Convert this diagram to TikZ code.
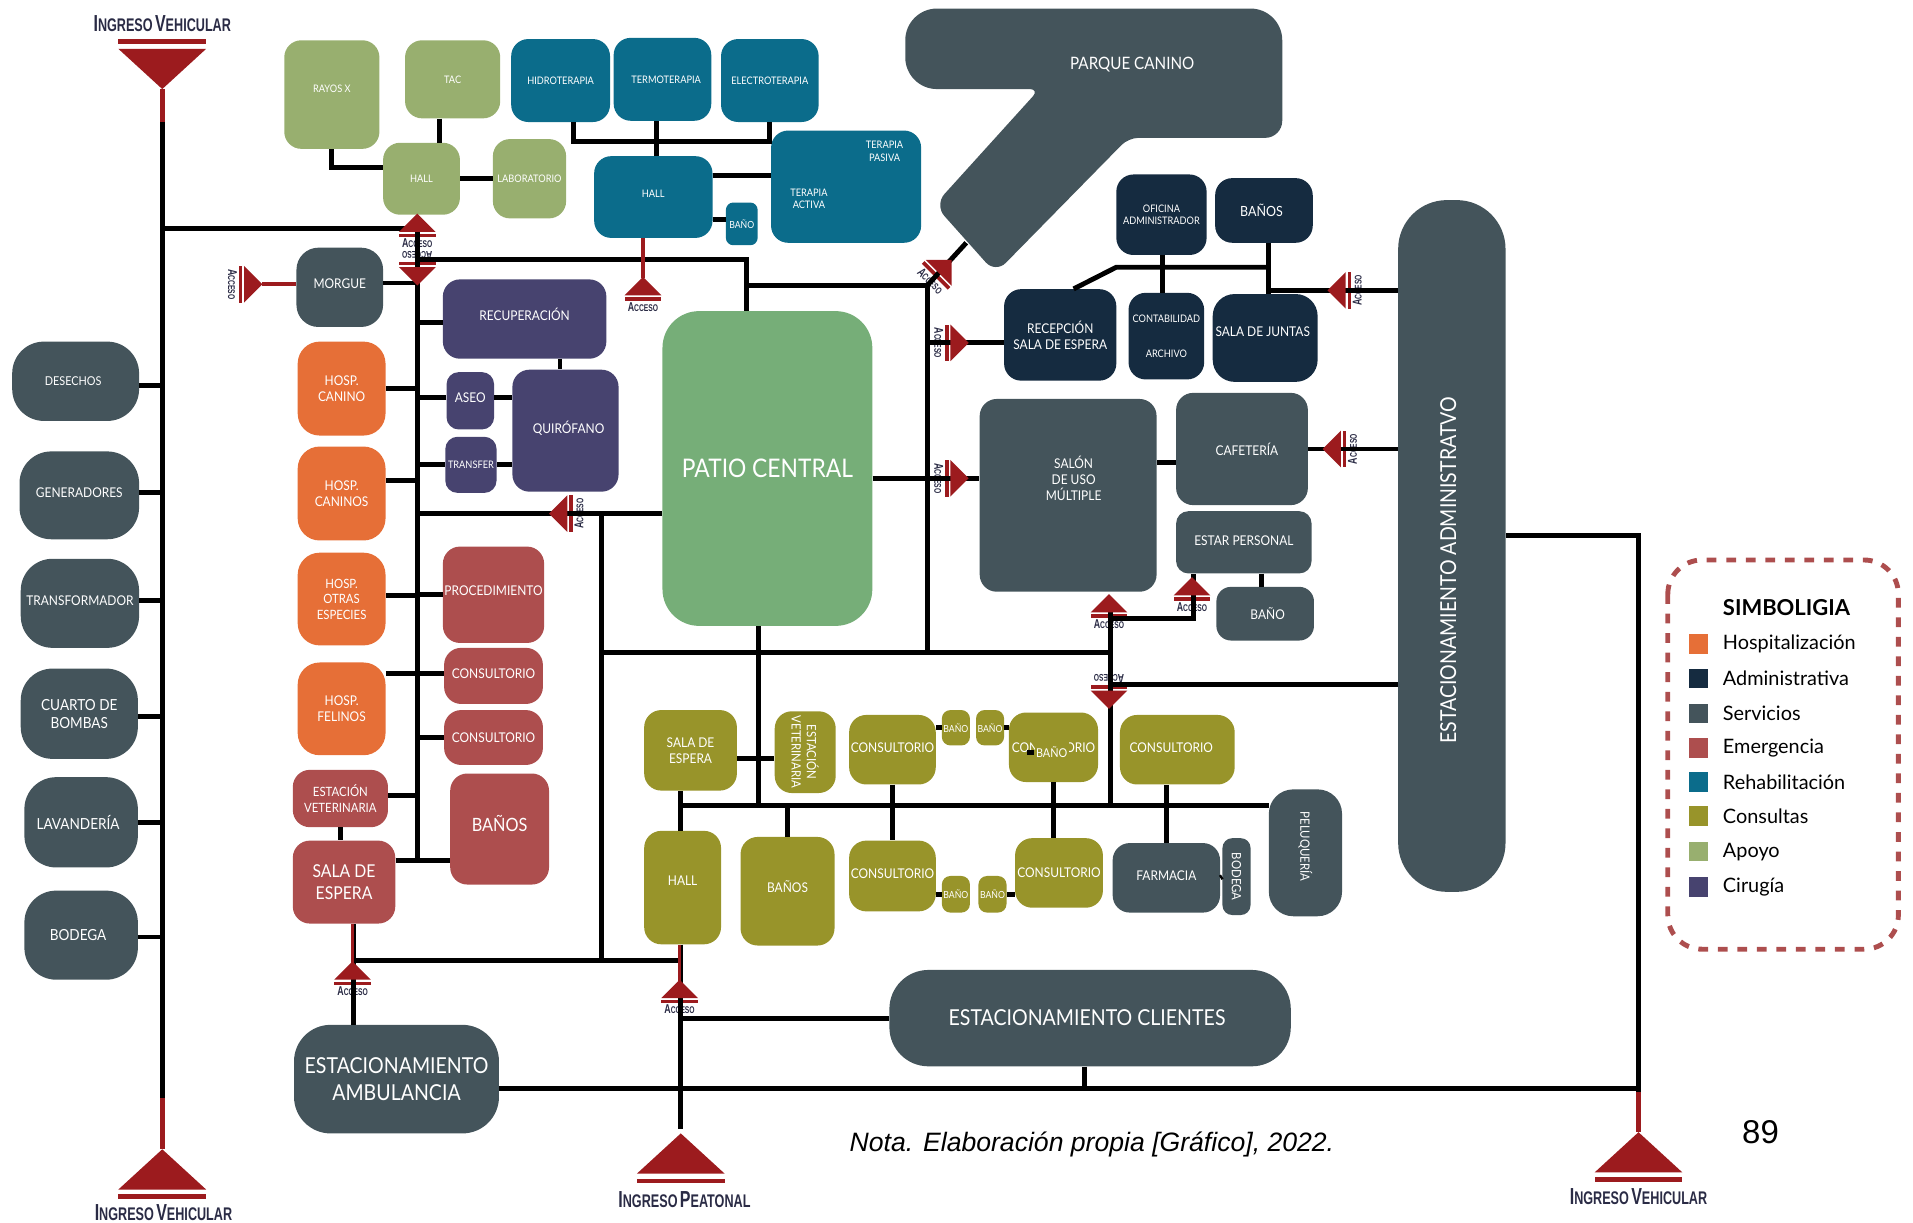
\documentclass[tikz,border=0pt]{standalone}
\usepackage{fontspec}
\setmainfont{Lato}[FakeStretch=0.89]
\newfontfamily\leyendafont{Lato}
\newfontfamily\arialfont{Liberation Sans}
\newfontfamily\ingresofont[FakeStretch=0.69]{Liberation Sans}
\definecolor{hospcol}{RGB}{230,111,55}
\definecolor{admincol}{RGB}{21,43,64}
\definecolor{servcol}{RGB}{68,84,91}
\definecolor{emercol}{RGB}{173,78,78}
\definecolor{rehabcol}{RGB}{11,108,139}
\definecolor{conscol}{RGB}{152,148,42}
\definecolor{apoyocol}{RGB}{152,175,111}
\definecolor{cirucol}{RGB}{71,67,111}
\definecolor{patiocol}{RGB}{118,174,120}
\definecolor{accesscol}{RGB}{156,27,30}
\definecolor{inkcol}{RGB}{42,43,69}
\usetikzlibrary{backgrounds,positioning}
\newcommand{\smcap}[4]{{\fontsize{#1}{#1}\selectfont #3}{\fontsize{#2}{#2}\selectfont #4}}
\tikzset{
  box/.style 2 args={minimum width=#1pt,minimum height=#2pt},
  fs/.style={font=\fontsize{#1}{#1}\selectfont\setlength{\baselineskip}{1.2em}},
}
\tikzstyle{room}=[rectangle,rounded corners=14pt,inner sep=0pt,align=center,text=white,fs=11]
\tikzstyle{hosp}=[room,fill=hospcol]
\tikzstyle{admi}=[room,fill=admincol]
\tikzstyle{serv}=[room,fill=servcol]
\tikzstyle{emer}=[room,fill=emercol]
\tikzstyle{rehab}=[room,fill=rehabcol]
\tikzstyle{cons}=[room,fill=conscol]
\tikzstyle{apoyo}=[room,fill=apoyocol,fs=8.5]
\tikzstyle{ciru}=[room,fill=cirucol]
\tikzstyle{rotulo}=[inner sep=0pt,align=center,text=white,fs=8.5]
\tikzstyle{conn}=[line width=4pt,black]
\tikzstyle{connred}=[line width=3pt,accesscol]
\tikzstyle{entrada}=[inner sep=0pt,text=inkcol,font=\ingresofont\bfseries]
\tikzset{
  acceso/.pic={
    \fill[accesscol] (0pt,0pt) -- (15pt,-15pt) -- (-15pt,-15pt) -- cycle;
    \begin{pgfonlayer}{background}
      \fill[accesscol] (-15pt,-16.5pt) rectangle (15pt,-19.5pt);
      \node[entrada,transform shape] (-t) at (0pt,-24.5pt) {\smcap{10.5}{8}{A}{CCESO}};
    \end{pgfonlayer}
  },
  ingreso/.pic={
    \fill[accesscol] (0pt,0pt) -- (36pt,-33pt) -- (-36pt,-33pt) -- cycle;
    \fill[accesscol] (-36pt,-37pt) rectangle (36pt,-41pt);
  },
}

\begin{document}
\begin{tikzpicture}[x=1pt,y=-1pt]
\useasboundingbox (0,0) rectangle (1568,1002.4);

% apoyo
\node[apoyo,box={78}{89}] (rayos) at (272,77.5) {\raisebox{9pt}{RAYOS X}};
\node[apoyo,box={78}{64}] (tac) at (371,65) {TAC};
\node[apoyo,box={63}{59}] (halla) at (345.5,146.5) {HALL};
\node[apoyo,box={60}{65}] (lab) at (434,146.5) {LABORATORIO};

% rehabilitacion
\node[rehab,fs=8.5,box={81}{68}] (hidro) at (459.5,66) {HIDROTERAPIA};
\node[rehab,fs=8.5,box={80}{68}] (termo) at (543,65) {\hspace{6pt}\raisebox{-4pt}{TERMOTERAPIA}};
\node[rehab,fs=8.5,box={80}{68}] (elect) at (631,66) {ELECTROTERAPIA};
\node[rehab,fs=8.5,box={97}{67}] (hallr) at (535.5,161.5) {\raisebox{6pt}{HALL}};
\node[rehab,fs=8,rounded corners=6pt,box={26}{35}] (banor) at (608,183.5) {BAÑO};
\node[rehab,box={123}{92}] (terapia) at (693.5,153) {};
\node[rotulo] (pasiva) at (725,124) {TERAPIA\\PASIVA};
\node[rotulo] (activa) at (663,163) {TERAPIA\\ACTIVA};

% parque
\fill[servcol,rounded corners=26pt] (742,7) -- (1051,7) [rounded corners=14pt] -- (1051,113) [rounded corners=8pt] -- (925,113)
  [rounded corners=12pt] -- (816,224) -- (766,168) [rounded corners=8pt] -- (852,73) [rounded corners=26pt] -- (742,73) -- cycle;
\node[rotulo,fs=14] (parquetxt) at (928,53) {PARQUE CANINO};
\coordinate (parque) at (792,199);

% servicios
\node[serv,fs=10,rounded corners=26pt,box={104}{65}] (desechos) at (62,312.5) {DESECHOS\hspace{4pt}};
\node[serv,rounded corners=26pt,box={98}{72}] (generadores) at (65,406) {\raisebox{4pt}{GENERADORES}};
\node[serv,rounded corners=26pt,box={97}{73}] (transformador) at (65.5,494.5) {\raisebox{4pt}{TRANSFORMADOR}};
\node[serv,fs=12.5,rounded corners=26pt,box={96}{74}] (bombas) at (65,585) {CUARTO DE\\BOMBAS};
\node[serv,fs=12.5,rounded corners=26pt,box={93}{74}] (lavanderia) at (66.5,674) {LAVANDERÍA\hspace{5pt}};
\node[serv,fs=12.5,rounded corners=26pt,box={93}{73}] (bodega) at (66.5,766.5) {BODEGA\hspace{5pt}};
\node[serv,rounded corners=18pt,box={71}{65}] (morgue) at (278.5,235.5) {\raisebox{6pt}{MORGUE}};

% hospitalizacion
\node[hosp,rounded corners=18pt,box={72}{77}] (hcanino) at (280,318.5) {HOSP.\\CANINO};
\node[hosp,rounded corners=18pt,box={72}{77}] (hcaninos) at (280,404.5) {HOSP.\\CANINOS};
\node[hosp,fs=10.5,rounded corners=18pt,box={72}{76}] (hotras) at (280,491) {HOSP.\\OTRAS\\ESPECIES};
\node[hosp,rounded corners=18pt,box={72}{76}] (hfelinos) at (280,581) {HOSP.\\FELINOS};

% cirugia
\node[ciru,box={134}{65}] (recup) at (430,261.5) {\raisebox{7pt}{RECUPERACIÓN}};
\node[ciru,rounded corners=10pt,box={39}{47}] (aseo) at (385.5,328.5) {\raisebox{5pt}{ASEO}};
\node[ciru,fs=8.5,rounded corners=10pt,box={42}{46}] (transfer) at (386,381) {TRANSFER};
\node[ciru,box={87}{100}] (quiro) at (463.5,353) {\raisebox{6pt}{\hspace{5pt}QUIRÓFANO}};

% emergencia
\node[emer,box={83}{79}] (proced) at (404.5,487.5) {\raisebox{7pt}{PROCEDIMIENTO}};
\node[emer,box={81}{46}] (consa) at (404.5,554) {\raisebox{4pt}{CONSULTORIO}};
\node[emer,box={81}{45}] (consb) at (404.5,604.5) {CONSULTORIO};
\node[emer,fs=10.5,box={78}{47}] (estva) at (279,654.5) {ESTACIÓN\\VETERINARIA};
\node[emer,fs=15,box={81}{91}] (banose) at (409.5,679.5) {\raisebox{9pt}{BAÑOS}};
\node[emer,fs=14.5,box={84}{68}] (salae) at (282,723) {SALA DE\\ESPERA};

\node[room,fill=patiocol,fs=21,rounded corners=30pt,box={172}{258}] (patio) at (629,384) {PATIO CENTRAL};

% consultas
\node[cons,box={76}{66}] (salac) at (566,615) {SALA DE\\ESPERA};
\node[cons,fs=10.5,rotate=-90,box={67}{50}] (estvb) at (660,616.5) {ESTACIÓN\\VETERINARIA};
\node[cons,box={71}{57}] (cona) at (731.5,614.5) {\raisebox{4pt}{CONSULTORIO}};
\node[cons,fs=8,rounded corners=7pt,box={23}{29}] (banoa) at (783.5,596.5) {BAÑO};
\node[cons,fs=8,rounded corners=7pt,box={23}{29}] (banob) at (811.5,596.5) {BAÑO};
\node[cons,box={73}{57}] (conb) at (863.5,612.5) {CONSULTORIO};
\node[cons,fs=10,rounded corners=0pt,box={28}{20}] (banoc) at (862,616.5) {BAÑO};
\node[cons,box={94}{57}] (conc) at (965,614.5) {\raisebox{4pt}{CONSULTORIO\hspace{10pt}}};
\node[cons,box={63}{93}] (hallc) at (559.5,727.5) {\raisebox{12pt}{HALL}};
\node[cons,box={77}{89}] (banosc) at (645.5,730.5) {\raisebox{7pt}{BAÑOS}};
\node[cons,box={71}{58}] (cond) at (731.5,718) {\raisebox{4pt}{CONSULTORIO}};
\node[cons,fs=8,rounded corners=7pt,box={23}{30}] (banod) at (783.5,733) {BAÑO};
\node[cons,fs=8,rounded corners=7pt,box={23}{30}] (banoe) at (813.5,733) {BAÑO};
\node[cons,box={72}{57}] (cone) at (868,715.5) {CONSULTORIO};

% servicios derecha
\node[serv,box={88}{57}] (farmacia) at (956,719.5) {\raisebox{3pt}{FARMACIA}};
\node[serv,fs=10.5,rotate=-90,rounded corners=8pt,box={63}{23}] (bodegab) at (1013.5,718.5) {BODEGA};
\node[serv,fs=10.5,rotate=-90,rounded corners=20pt,box={104}{60}] (peluqueria) at (1070,699) {PELUQUERÍA\hspace{10pt}};
\node[serv,box={145}{158}] (salon) at (875.5,406) {};
\node[rotulo,fs=11] (salontxt) at (880,392) {SALÓN\\DE USO\\MÚLTIPLE};
\node[serv,box={108}{92}] (cafe) at (1018,368) {\hspace{8pt}CAFETERÍA};
\node[serv,rounded corners=10pt,box={111}{51}] (estar) at (1019.5,444.5) {\raisebox{2pt}{ESTAR PERSONAL}};
\node[serv,rounded corners=12pt,box={80}{44}] (banop) at (1037,503) {\hspace{4pt}BAÑO};
\node[serv,fs=18,rotate=90,rounded corners=40pt,box={567}{88}] (estadmin) at (1190,447.5) {\raisebox{6pt}{ESTACIONAMIENTO ADMINISTRATVO\hspace{40pt}}};
\node[serv,fs=18,rounded corners=32pt,box={329}{79}] (estclientes) at (893.5,834.5) {\raisebox{-4pt}{ESTACIONAMIENTO CLIENTES\hspace{5pt}}};
\node[serv,fs=18,rounded corners=30pt,box={168}{89}] (estambu) at (325,884.5) {ESTACIONAMIENTO\\AMBULANCIA};

% administrativa
\node[admi,fs=8.5,box={74}{66}] (oficina) at (952,176) {OFICINA\\ADMINISTRADOR};
\node[admi,fs=11.5,box={80}{53}] (banosn) at (1036,172.5) {BAÑOS\hspace{4pt}};
\node[admi,box={92}{75}] (recep) at (869,274.5) {RECEPCIÓN\\SALA DE ESPERA};
\node[admi,fs=8.5,box={62}{71}] (contab) at (956,275.5) {CONTABILIDAD\\[19pt]ARCHIVO};
\node[admi,rounded corners=18pt,box={86}{72}] (juntas) at (1037,277) {\raisebox{10pt}{SALA DE JUNTAS\hspace{4pt}}};

% leyenda
\draw[emercol,line width=4pt,dash pattern=on 8pt off 8pt,rounded corners=28pt] (1367,459) rectangle (1556,778);
\node[inner sep=0pt,anchor=west,font=\leyendafont\fontsize{18}{18}\selectfont\bfseries] (simbo) at (1412,498) {SIMBOLIGIA};
\foreach \n/\c/\t/\y in {a/hospcol/Hospitalización/528,b/admincol/Administrativa/556,c/servcol/Servicios/585,
  d/emercol/Emergencia/613,e/rehabcol/Rehabilitación/641,f/conscol/Consultas/669,g/apoyocol/Apoyo/698,h/cirucol/Cirugía/727}{
  \node[fill=\c,minimum size=16pt,inner sep=0pt] (sq\n) at (1392,\y) {};
  \node[inner sep=0pt,anchor=west,font=\leyendafont\fontsize{16.3}{16.3}\selectfont] (ley\n) at (1412,\y) {\t};
}

\node[inner sep=0pt,font=\arialfont\itshape\fontsize{21.8}{21.8}\selectfont] (nota) at (895,938) {Nota. Elaboración propia [Gráfico], 2022.};
\node[inner sep=0pt,font=\arialfont\fontsize{27}{27}\selectfont] (pagina) at (1443,928) {89};

% ingresos
\node[entrada] (ingtxta) at (133,19) {\smcap{19}{15}{I}{NGRESO} \smcap{19}{15}{V}{EHICULAR}};
\node[entrada] (ingtxtb) at (134,994) {\smcap{19}{15}{I}{NGRESO} \smcap{19}{15}{V}{EHICULAR}};
\node[entrada] (ingtxtc) at (561,983) {\smcap{19}{15}{I}{NGRESO} \smcap{19}{15}{P}{EATONAL}};
\node[entrada] (ingtxtd) at (1343,981) {\smcap{19}{15}{I}{NGRESO} \smcap{19}{15}{V}{EHICULAR}};

% junctions
\coordinate (ivtop) at (133,73);
\coordinate (ivbot) at (133,942);
\coordinate (ipeat) at (558,929);
\coordinate (ivder) at (1343,928);
\coordinate (jleft) at (133,100);
\coordinate (jleftb) at (133,900);
\coordinate (jbus) at (342,187);
\coordinate (jbusb) at (342,705);
\coordinate (jpatio) at (612,213);
\coordinate (jparque) at (760,234);
\coordinate (jbaja) at (760,535);
\coordinate (jmid) at (493,421);
\coordinate (jmidb) at (493,787);
\coordinate (jamb) at (290,790);
\coordinate (jpeat) at (558,787);
\coordinate (jpeatb) at (558,925);
\coordinate (jcons) at (558,660);
\coordinate (jfila) at (622,660);
\coordinate (jsal) at (910,490);
\coordinate (jsalb) at (910,660);
\coordinate (jestar) at (978,507);
\coordinate (jder) at (1343,895);
\coordinate (jcli) at (889,892);
\coordinate (jofi) at (1040,219);
\coordinate (jofib) at (915,219);
\coordinate (jofic) at (953,219);
\coordinate (jteal) at (470,116);
\coordinate (jtealb) at (538,116);
\coordinate (jtac) at (360,107);
\coordinate (jbano) at (842,616.5);
\coordinate (jrehab) at (527,228);
\coordinate (jhalla) at (557,805);
\coordinate (jmorgue) at (215,233);

% connectors
\draw[conn] (jleft) -- (jleftb);
\draw[connred,line width=4pt] (ivtop) -- (jleft);
\draw[connred,line width=4pt] (jleftb) -- (ivbot);
\draw[conn] (jleft |- jbus) -- (jbus) -- (jbusb);
\foreach \n/\d in {desechos/-3.5,generadores/2,transformador/2.5,bombas/-2,lavanderia/0,bodega/-1.5}
  \draw[conn] ([yshift=\d pt]\n.east) -- ([yshift=\d pt]\n.east -| jleft);
\foreach \n/\d in {morgue/3.5,hcanino/0,hcaninos/10.5,hotras/3,hfelinos/29,estva/2.5,salae/18}
  \draw[conn] ([yshift=\d pt]\n.east) -- ([yshift=\d pt]\n.east -| jbus);
\foreach \n/\d in {recup/-2.5,aseo/2.5,transfer/0,proced/0,consa/2,consb/0,banose/-25.5}
  \draw[conn] ([yshift=\d pt]\n.west) -- ([yshift=\d pt]\n.west -| jbus);
\draw[conn] ([xshift=29pt]recup.south) -- ([xshift=-4.5pt]quiro.north);
\draw[conn] ([yshift=2.5pt]aseo.east) -- ([yshift=2.5pt]aseo.east -| quiro.west);
\draw[conn] (transfer.east) -- (transfer.east -| quiro.west);
\draw[conn] (estva.south) -- (estva.south |- salae.north);
% apoyo y rehabilitacion
\draw[conn] (rayos.south) |- ([yshift=9.5pt]halla.west);
\draw[conn] (jtac |- tac.south) -- (jtac |- halla.north);
\draw[conn] (halla.east) -- (lab.west);
\draw[conn] (jteal |- hidro.south) -- (jteal) -- (jteal -| elect.south) -- (elect.south);
\draw[conn] (jtealb |- termo.south) -- (jtealb |- hallr.north);
\draw[conn] ([yshift=17.5pt]hallr.east) -- ([yshift=17.5pt]hallr.east -| terapia.west);
\draw[conn] ([yshift=-18.5pt]hallr.east) -- ([yshift=-18.5pt]hallr.east -| banor.west);
% patio
\draw[conn] (jbus |- jpatio) -- (jpatio) -- (jpatio |- patio.north);
\draw[conn] (jpatio |- jparque) -- (jparque) -- (jbaja);
\draw[conn] (jparque) -- (parque);
\draw[conn] ([yshift=-37pt]patio.west) -- ([yshift=-37pt]patio.west -| jbus);
\draw[conn] (jmid) -- (jmidb);
\draw[conn] (jamb |- jmidb) -- (jpeat);
\draw[conn] (jmid |- jbaja) -- (jbaja) -- (jbaja -| jsal);
\draw[conn] (jfila |- patio.south) -- (jfila);
\draw[conn] ([yshift=-8pt]patio.east) -- ([yshift=-8pt]patio.east -| salon.west);
\draw[conn] ([yshift=-6.5pt]recep.west) -- ([yshift=-6.5pt]recep.west -| jparque);
% consultas
\draw[conn] (jcons) -- (jcons -| peluqueria.south);
\draw[conn] (jcons |- salac.south) -- (jcons |- hallc.north);
\draw[conn] ([yshift=-7pt]salac.east) -- ([yshift=-7pt]salac.east -| estvb.south);
\draw[conn] (banosc.north) -- (banosc.north |- jcons);
\draw[conn] (cona.south) -- (cond.north);
\draw[conn] (conb.south) -- (conb.south |- cone.north);
\draw[conn] (farmacia.north) -- (farmacia.north |- conc.south);
\draw[conn] (banoa.west) -- (banoa.west -| cona.east);
\draw[conn] (banob.east) -- (banob.east -| conb.west);
\draw[conn] (banod.west) -- (banod.west -| cond.east);
\draw[conn] (banoe.east) -- (banoe.east -| cone.west);
\draw[conn] (jbano) -- (banoc.west);
\draw[conn] (farmacia.east) -- (bodegab.south);
% derecha
\draw[conn] (jsal) -- (jsalb);
\draw[conn] (jsal |- jestar) -- (jestar) -- (jestar |- estar.south);
\draw[conn] ([yshift=-113.5pt]estadmin.north) -- ([yshift=-113.5pt]estadmin.north -| jsal);
\draw[conn] ([yshift=-11pt]cafe.west) -- ([yshift=-11pt]cafe.west -| salon.east);
\draw[conn] (cafe.east) -- (cafe.east -| estadmin.north);
\draw[conn] ([xshift=14.5pt]estar.south) -- ([xshift=14.5pt]estar.south |- banop.north);
\draw[conn] ([xshift=11pt]recep.north) -- (jofib) -- (jofi);
\draw[conn] (jofic |- oficina.south) -- (jofic |- contab.north);
\draw[conn] (jofi |- banosn.south) -- (jofi |- juntas.north);
\draw[conn] ([yshift=209.5pt]estadmin.north) -- ([yshift=209.5pt]estadmin.north -| jofi);
\draw[conn] ([yshift=8.5pt]estadmin.south) -- ([yshift=8.5pt]estadmin.south -| jder) -- (jder);
\draw[connred,line width=4pt] (jder) -- (ivder);
\draw[conn] ([yshift=-7.5pt]estambu.east) -- ([yshift=-7.5pt]estambu.east -| jder);
\draw[conn] (jcli |- estclientes.south) -- (jcli);
% entradas
\draw[conn] (jpeat |- hallc.south) -- (jpeatb);
\draw[conn] (estclientes.west) -- (estclientes.west -| jpeat);
\draw[conn] (jamb |- salae.south) -- (jamb |- estambu.north);
\draw[connred] ([xshift=-1pt]jpeat |- hallc.south) -- (jhalla);
\draw[connred] ([xshift=-1pt]jamb |- salae.south) -- ([xshift=-1pt]jamb);
\draw[connred] (jrehab |- hallr.south) -- (jrehab);
\draw[connred] (jmorgue -| morgue.west) -- (jmorgue);

% accesos
\pic at (ivtop) [rotate=180] {ingreso};
\pic at (ivbot) {ingreso};
\pic at (ipeat) {ingreso};
\pic at (ivder) {ingreso};
\pic (aapoyo) at (342,175) {acceso};
\pic[rotate=180] (abus) at (342,234) {acceso};
\pic[rotate=-90] (amorgue) at (jmorgue) {acceso};
\pic (arehab) at (527,227) {acceso};
\pic[rotate=90] (aquiro) at (450,421) {acceso};
\pic[rotate=-45] (aparque) at (780,213) {acceso};
\pic[rotate=-90] (arecep) at (794,281) {acceso};
\pic[rotate=-90] (asalon) at (794,392) {acceso};
\pic[rotate=90] (ajuntas) at (1088,238) {acceso};
\pic[rotate=90] (acafe) at (1084,368) {acceso};
\pic (asalonb) at (909,487) {acceso};
\pic (aestar) at (977,473) {acceso};
\pic[rotate=180] (abaja) at (909,581) {acceso};
\pic (aemer) at (289,788) {acceso};
\pic (ahall) at (557,803) {acceso};
\end{tikzpicture}
\end{document}
